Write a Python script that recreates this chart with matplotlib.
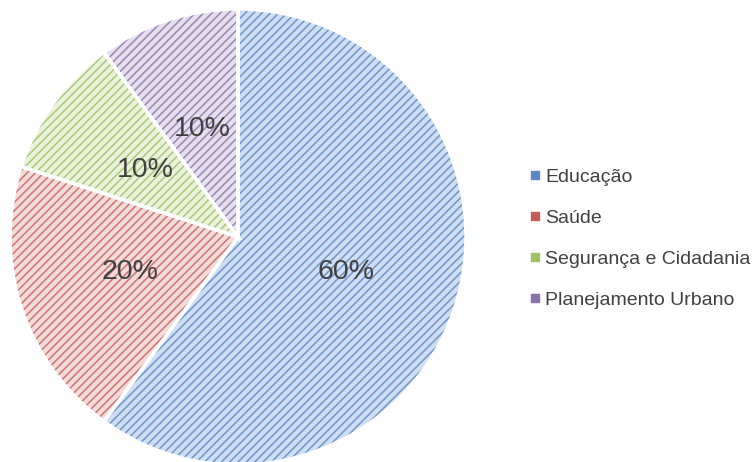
import matplotlib.pyplot as plt
from matplotlib.lines import Line2D

plt.rcParams['font.family'] = ['Liberation Sans', 'DejaVu Sans']
plt.rcParams['hatch.linewidth'] = 1.1

labels = ['Educação', 'Saúde', 'Segurança e Cidadania', 'Planejamento Urbano']
values = [60, 20, 10, 10]
fills = ['#cfdef2', '#f3dbda', '#eaf2dc', '#e6e0ee']
lines = ['#6e98cc', '#cc7472', '#aac87a', '#9a86b8']
markers = ['#5b88c2', '#c45b58', '#9fc064', '#8a71ab']

fig = plt.figure(figsize=(7.53, 4.62), dpi=100)
ax = fig.add_axes([10/753, -3/462, 456/753, 456/462])

wedges, texts, autotexts = ax.pie(values, startangle=90, counterclock=False,
                                  colors=fills, autopct='%1.0f%%', pctdistance=0.5,
                                  radius=1.0,
                                  textprops={'fontsize': 20.5, 'color': '#404040'})
for w, c in zip(wedges, lines):
    w.set_hatch('////')
    w.set_edgecolor(c)
    w.set_linewidth(0)

# white borders on top
border, _ = ax.pie(values, startangle=90, counterclock=False, radius=1.0,
                   wedgeprops={'fill': False, 'edgecolor': 'white', 'linewidth': 2.5})
for t in autotexts:
    t.set_zorder(5)
ax.set_xlim(-1, 1)
ax.set_ylim(-1, 1)
ax.set_aspect('equal')

handles = [Line2D([], [], marker='s', linestyle='none', markersize=6,
                  markerfacecolor=c, markeredgecolor=c) for c in markers]
fig.legend(handles, labels, loc='center left', bbox_to_anchor=(510/753, 0.484),
           frameon=False, fontsize=14, labelcolor='#404040',
           handletextpad=0.1, labelspacing=1.2, handlelength=0.8)

fig.savefig('out.png', dpi=100)
